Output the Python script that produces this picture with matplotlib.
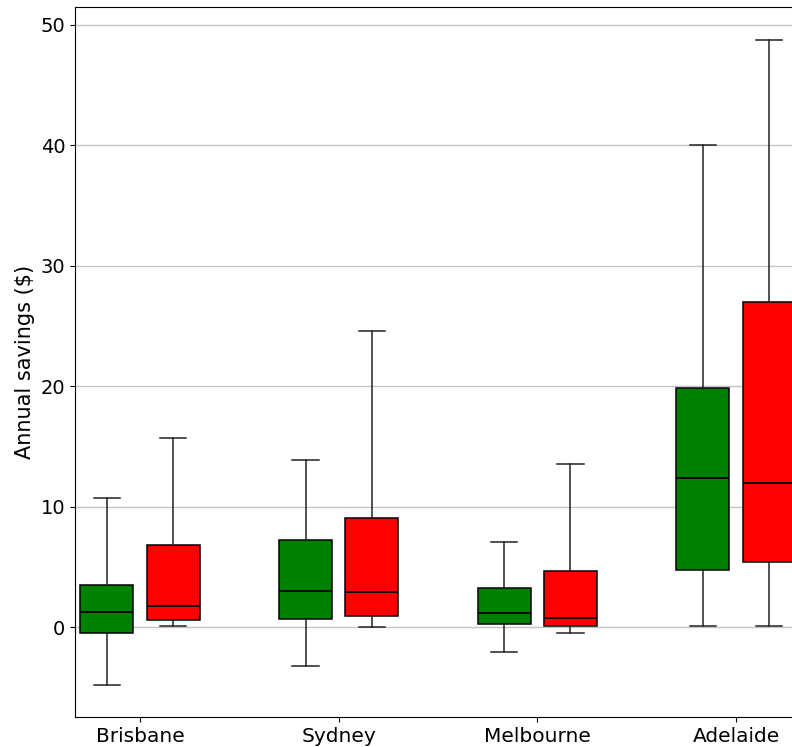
import numpy as np
import matplotlib.pyplot as plt

cities = ['Brisbane', 'Sydney', 'Melbourne', 'Adelaide']

# box statistics for the two series per city: low whisker, Q1, median, Q3, high whisker
green_low = [-4.76, -3.24, -2.02, 0.08]
green_q1 = [-0.50, 0.67, 0.25, 4.79]
green_med = [1.30, 3.05, 1.22, 12.37]
green_q3 = [3.49, 7.28, 3.27, 19.83]
green_high = [10.74, 13.86, 7.06, 40.0]

red_low = [0.11, 0.03, -0.50, 0.08]
red_q1 = [0.64, 0.92, 0.11, 5.43]
red_med = [1.74, 2.93, 0.75, 11.95]
red_q3 = [6.84, 9.10, 4.65, 26.97]
red_high = [15.72, 24.60, 13.56, 48.76]


def make_stats(low, q1, med, q3, high):
    stats = []
    for i in range(len(low)):
        stats.append({'whislo': low[i], 'q1': q1[i], 'med': med[i],
                      'q3': q3[i], 'whishi': high[i], 'fliers': []})
    return stats


fig = plt.figure(figsize=(7.92, 7.47), dpi=100)
ax = fig.add_axes([75 / 792, 30 / 747, 726 / 792, 710 / 747])

ticks = np.arange(len(cities)) * 3 + 1

common = dict(widths=0.8, patch_artist=True, showfliers=False,
              medianprops=dict(color='black', linewidth=1.3),
              whiskerprops=dict(color='#222222', linewidth=1.1),
              capprops=dict(color='#222222', linewidth=1.1),
              manage_ticks=False)

bg = ax.bxp(make_stats(green_low, green_q1, green_med, green_q3, green_high),
            positions=ticks - 0.5,
            boxprops=dict(facecolor='green', edgecolor='black', linewidth=1.1),
            **common)
br = ax.bxp(make_stats(red_low, red_q1, red_med, red_q3, red_high),
            positions=ticks + 0.5,
            boxprops=dict(facecolor='red', edgecolor='black', linewidth=1.1),
            **common)

ax.set_xticks(ticks)
ax.set_xticklabels(cities, fontsize=14.5)
ax.set_xlim(ticks[0] - 0.98, ticks[-1] + 0.98)
ax.set_ylim(-7.44, 51.49)
ax.tick_params(axis='y', labelsize=14)
ax.set_ylabel('Annual savings ($)', fontsize=15)

ax.yaxis.grid(True, color='#c4c4c4', linewidth=1.0)
ax.set_axisbelow(True)

fig.savefig('out.png', dpi=100)
